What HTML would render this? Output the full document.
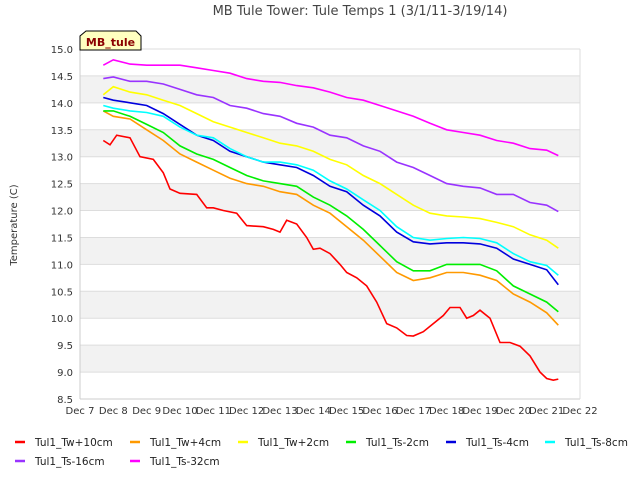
<!DOCTYPE html>
<html><head><meta charset="utf-8"><style>
body{margin:0;background:#fff;font-family:"Liberation Sans","DejaVu Sans",sans-serif}
</style></head><body>
<svg id="c" width="640" height="480" xmlns="http://www.w3.org/2000/svg" style="font-family:'DejaVu Sans','Liberation Sans',sans-serif">
<text x="360" y="15" text-anchor="middle" font-size="13" fill="#444">MB Tule Tower: Tule Temps 1 (3/1/11-3/19/14)</text>
<g id="bands"></g><g id="grid"></g><g id="series"></g><g id="axes"></g>
<text transform="translate(17,225) rotate(-90)" text-anchor="middle" font-size="10" fill="#333">Temperature (C)</text>
<g>
<path d="M80,50 L80,36 L86,31 L136,31 L141,36 L141,50 Z" fill="#ffffc0" stroke="#000"/>
<text x="110.5" y="46" text-anchor="middle" font-size="11" font-weight="bold" fill="#8b0000">MB_tule</text></g>
<g id="legend"></g>
</svg>
<script>
const days=[7.7,8,8.5,9,9.5,10,10.5,11,11.5,12,12.5,13,13.5,14,14.5,15,15.5,16,16.5,17,17.5,18,18.5,19,19.5,20,20.5,21,21.35];
const redDays=[7.7,7.9,8.1,8.5,8.8,9.2,9.5,9.7,10,10.5,10.8,11,11.3,11.7,12,12.5,12.8,13,13.2,13.5,13.8,14,14.2,14.5,14.8,15,15.3,15.6,15.9,16.2,16.5,16.8,17,17.3,17.6,17.9,18.1,18.4,18.6,18.8,19,19.3,19.6,19.9,20.2,20.5,20.8,21,21.2,21.35];
const tw10=[13.3,13.22,13.4,13.35,13.0,12.95,12.7,12.4,12.32,12.3,12.05,12.05,12.0,11.95,11.72,11.7,11.65,11.6,11.82,11.75,11.5,11.28,11.3,11.2,11.0,10.85,10.75,10.6,10.3,9.9,9.82,9.68,9.67,9.75,9.9,10.05,10.2,10.2,10.0,10.05,10.15,10.0,9.55,9.55,9.48,9.3,9.0,8.88,8.85,8.87];
const tw4=[13.85,13.75,13.7,13.5,13.3,13.05,12.9,12.75,12.6,12.5,12.45,12.35,12.3,12.1,11.95,11.7,11.45,11.15,10.85,10.7,10.75,10.85,10.85,10.8,10.7,10.45,10.3,10.1,9.87];
const tw2=[14.15,14.3,14.2,14.15,14.05,13.95,13.8,13.65,13.55,13.45,13.35,13.25,13.2,13.1,12.95,12.85,12.65,12.5,12.3,12.1,11.95,11.9,11.88,11.85,11.78,11.7,11.55,11.45,11.3];
const ts2=[13.85,13.85,13.75,13.6,13.45,13.2,13.05,12.95,12.8,12.65,12.55,12.5,12.45,12.25,12.1,11.9,11.65,11.35,11.05,10.88,10.88,11.0,11.0,11.0,10.88,10.6,10.45,10.3,10.12];
const ts4=[14.1,14.05,14.0,13.95,13.8,13.6,13.4,13.3,13.1,13.0,12.9,12.85,12.8,12.65,12.45,12.35,12.1,11.9,11.6,11.42,11.38,11.4,11.4,11.38,11.3,11.1,11.0,10.9,10.62];
const ts8=[13.95,13.9,13.85,13.82,13.75,13.55,13.4,13.35,13.15,13.0,12.9,12.9,12.85,12.75,12.55,12.4,12.2,12.0,11.7,11.5,11.45,11.48,11.5,11.48,11.4,11.2,11.05,10.98,10.8];
const ts16=[14.45,14.48,14.4,14.4,14.35,14.25,14.15,14.1,13.95,13.9,13.8,13.75,13.62,13.55,13.4,13.35,13.2,13.1,12.9,12.8,12.65,12.5,12.45,12.42,12.3,12.3,12.15,12.1,11.98];
const ts32=[14.7,14.8,14.72,14.7,14.7,14.7,14.65,14.6,14.55,14.45,14.4,14.38,14.32,14.28,14.2,14.1,14.05,13.95,13.85,13.75,13.62,13.5,13.45,13.4,13.3,13.25,13.15,13.12,13.02];
const seriesNames=["Tul1_Tw+10cm","Tul1_Tw+4cm","Tul1_Tw+2cm","Tul1_Ts-2cm","Tul1_Ts-4cm","Tul1_Ts-8cm","Tul1_Ts-16cm","Tul1_Ts-32cm"];
const yTicks=[8.5,9.0,9.5,10.0,10.5,11.0,11.5,12.0,12.5,13.0,13.5,14.0,14.5,15.0];
const xTicks=["Dec 7","Dec 8","Dec 9","Dec 10","Dec 11","Dec 12","Dec 13","Dec 14","Dec 15","Dec 16","Dec 17","Dec 18","Dec 19","Dec 20","Dec 21","Dec 22"];
const NS="http://www.w3.org/2000/svg";
const X=d=>80+(d-7)*(500/15), Y=v=>399-(v-8.5)*(350/6.5);
function mk(t,a,p){const e=document.createElementNS(NS,t);for(const k in a)e.setAttribute(k,a[k]);document.getElementById(p).appendChild(e);return e;}
for(let v=9;v<15;v+=1){const b=mk('rect',{x:80,y:Y(v+0.5),width:500,height:Y(v)-Y(v+0.5),fill:'#f2f2f2'},'bands');

}
yTicks.forEach(v=>{const l=mk('line',{x1:80,x2:580,y1:Y(v),y2:Y(v),stroke:'#ddd'},'grid');


const t=mk('text',{x:73,y:Y(v)+4,'text-anchor':'end','font-size':10,fill:'#333'},'axes');t.textContent=v.toFixed(1);

});
mk('line',{x1:80,x2:580,y1:399,y2:399,stroke:'#ccc'},'axes');
mk('line',{x1:580,x2:580,y1:Y(15),y2:399,stroke:'#ddd'},'axes');
mk('line',{x1:80,x2:80,y1:Y(15),y2:399,stroke:'#ccc'},'axes');
xTicks.forEach((s,i)=>{const t=mk('text',{x:X(7+i),y:414,'text-anchor':'middle','font-size':10,fill:'#333'},'axes');t.textContent=s;

});
const colors=['#ff0000','#ff9900','#ffff00','#00ee00','#0000dd','#00ffff','#9933ff','#ff00ff'];
const data=[[redDays,tw10],[days,tw4],[days,tw2],[days,ts2],[days,ts4],[days,ts8],[days,ts16],[days,ts32]];
data.forEach(([xs,ys],i)=>{const p=mk('polyline',{points:xs.map((d,j)=>X(d).toFixed(1)+','+Y(ys[j]).toFixed(1)).join(' '),fill:'none',stroke:colors[i],'stroke-width':1.6},'series');

});
const lx=[15,130,238,346,446,545,15,130],lyy=[446,446,446,446,446,446,465,465];
seriesNames.forEach((n,i)=>{const g=mk('g',{},'legend');


const l=document.createElementNS(NS,'line');l.setAttribute('x1',lx[i]);l.setAttribute('x2',lx[i]+10);l.setAttribute('y1',lyy[i]-4);l.setAttribute('y2',lyy[i]-4);l.setAttribute('stroke',colors[i]);l.setAttribute('stroke-width',2.5);g.appendChild(l);
const t=document.createElementNS(NS,'text');t.setAttribute('x',lx[i]+20);t.setAttribute('y',lyy[i]);t.setAttribute('font-size',10.5);t.setAttribute('fill','#222');t.textContent=n;g.appendChild(t);});
</script>
</body></html>
